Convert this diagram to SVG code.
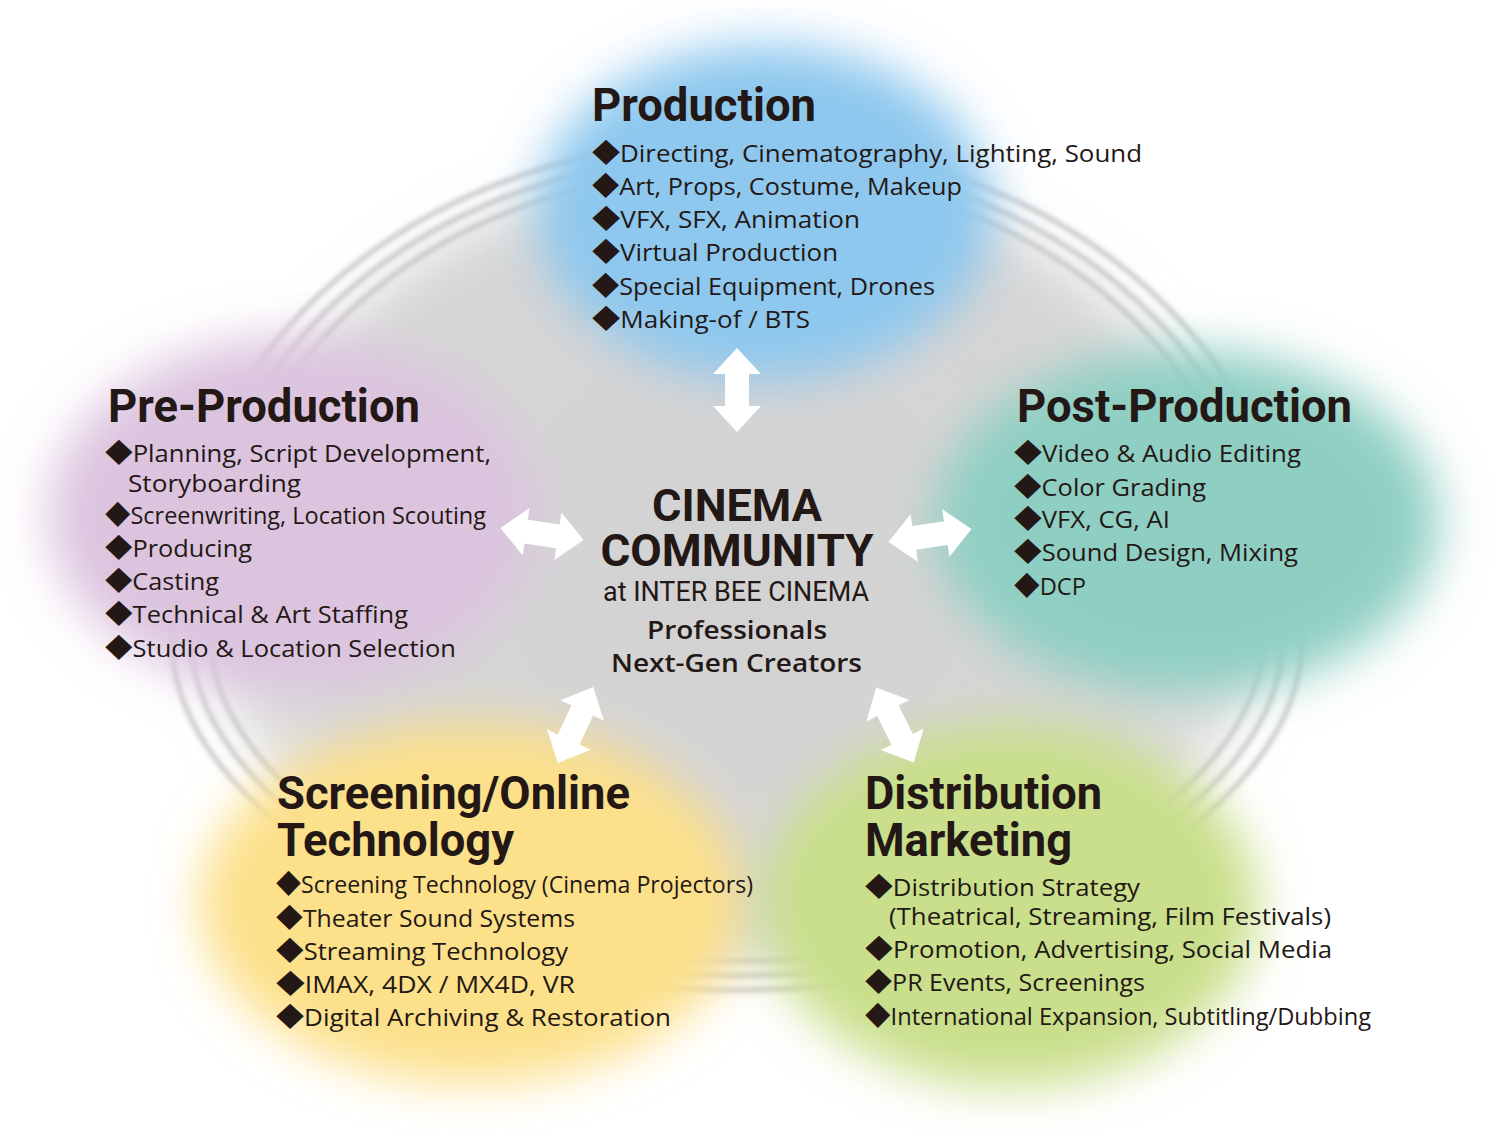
<svg xmlns="http://www.w3.org/2000/svg" xmlns:xlink="http://www.w3.org/1999/xlink" width="1497" height="1137" viewBox="0 0 1497 1137">
<style>
.t{font-family:Roboto,"Liberation Sans",sans-serif;font-weight:700;font-size:46px;fill:#231815}
.b{font-family:"Open Sans","DejaVu Sans",sans-serif;font-weight:400;font-size:24px;fill:#231815}
.d{font-family:"Noto Sans CJK JP","DejaVu Sans",sans-serif;font-size:26px}
.c1{font-family:Roboto,"Liberation Sans",sans-serif;font-weight:700;font-size:45px;fill:#231815}
.c2{font-family:Roboto,"Liberation Sans",sans-serif;font-weight:400;font-size:27px;fill:#231815}
.c3{font-family:"Open Sans","DejaVu Sans",sans-serif;font-weight:600;font-size:26px;fill:#231815}
.ring{fill:none;stroke:#bdbdbd;stroke-width:4}
.arrow{fill:#ffffff}
</style>
<defs>
<filter id="blur" x="-40%" y="-40%" width="180%" height="180%"><feGaussianBlur stdDeviation="24"/></filter>
<filter id="blurBig" x="-20%" y="-20%" width="140%" height="140%"><feGaussianBlur stdDeviation="28"/></filter>
<filter id="blurRing" x="-10%" y="-10%" width="120%" height="120%"><feGaussianBlur stdDeviation="2.8"/></filter>
<path id="ringPath" d="M 737 140 C 1034 140 1302 330 1302 640 C 1302 740 1214 830 1054 920 C 950 975 840 990 737 990 C 634 990 524 975 420 920 C 260 830 172 740 172 640 C 172 330 440 140 737 140 Z"/>
<path id="dbl" d="M -42 0 L -16 -24 L -16 -12 L 16 -12 L 16 -24 L 42 0 L 16 24 L 16 12 L -16 12 L -16 24 Z"/>
<radialGradient id="grayGrad" cx="737" cy="565" r="560" gradientUnits="userSpaceOnUse">
<stop offset="0" stop-color="#d2d2d2"/>
<stop offset="0.8" stop-color="#d6d6d6"/>
<stop offset="1" stop-color="#e2e2e2"/>
</radialGradient>
</defs>
<rect width="1497" height="1137" fill="#ffffff"/>
<g id="background">
<use xlink:href="#ringPath" fill="url(#grayGrad)" filter="url(#blurBig)" transform="translate(737 565) scale(0.93) translate(-737 -565)"/>
<g filter="url(#blurRing)">
<use xlink:href="#ringPath" class="ring" transform="translate(737 565) scale(1.0) translate(-737 -565)"/>
<use xlink:href="#ringPath" class="ring" transform="translate(737 565) scale(0.966) translate(-737 -565)"/>
<use xlink:href="#ringPath" class="ring" transform="translate(737 565) scale(0.932) translate(-737 -565)"/>
</g>
</g>
<g id="blobs">
<ellipse cx="765" cy="212" rx="228" ry="168" fill="#8ec8ee" filter="url(#blur)"/>
<ellipse cx="293" cy="515" rx="245" ry="178" fill="#dcc4df" filter="url(#blur)"/>
<ellipse cx="1187" cy="522" rx="252" ry="172" fill="#8fcfc3" filter="url(#blur)"/>
<ellipse cx="472" cy="903" rx="272" ry="180" fill="#fce08a" filter="url(#blur)"/>
<ellipse cx="1010" cy="905" rx="248" ry="182" fill="#c9df8b" filter="url(#blur)"/>
</g>
<g id="connectors">
<use xlink:href="#dbl" class="arrow" transform="translate(737 390) rotate(90)"/>
<use xlink:href="#dbl" class="arrow" transform="translate(542 534) rotate(8.3)"/>
<use xlink:href="#dbl" class="arrow" transform="translate(930 535.5) rotate(-8.8)"/>
<use xlink:href="#dbl" class="arrow" transform="translate(575.5 725) rotate(-65)"/>
<use xlink:href="#dbl" class="arrow" transform="translate(895 725) rotate(63.4)"/>
</g>
<g id="center">
<text class="c1" x="737" y="521" text-anchor="middle" textLength="170" lengthAdjust="spacingAndGlyphs">CINEMA</text>
<text class="c1" x="737" y="566" text-anchor="middle" textLength="273" lengthAdjust="spacingAndGlyphs">COMMUNITY</text>
<text class="c2" x="736" y="601" text-anchor="middle" textLength="266" lengthAdjust="spacingAndGlyphs">at INTER BEE CINEMA</text>
<text class="c3" x="737" y="639" text-anchor="middle" textLength="180" lengthAdjust="spacingAndGlyphs">Professionals</text>
<text class="c3" x="736.5" y="672" text-anchor="middle" textLength="251" lengthAdjust="spacingAndGlyphs">Next-Gen Creators</text>
</g>
<g id="production">
<text class="t" x="592" y="121" textLength="224" lengthAdjust="spacingAndGlyphs">Production</text>
<text class="b" x="592" y="162" textLength="550" lengthAdjust="spacingAndGlyphs"><tspan class="d">◆</tspan>Directing, Cinematography, Lighting, Sound</text>
<text class="b" x="592" y="195" textLength="370" lengthAdjust="spacingAndGlyphs"><tspan class="d">◆</tspan>Art, Props, Costume, Makeup</text>
<text class="b" x="592" y="228" textLength="268" lengthAdjust="spacingAndGlyphs"><tspan class="d">◆</tspan>VFX, SFX, Animation</text>
<text class="b" x="592" y="261" textLength="246" lengthAdjust="spacingAndGlyphs"><tspan class="d">◆</tspan>Virtual Production</text>
<text class="b" x="592" y="295" textLength="343" lengthAdjust="spacingAndGlyphs"><tspan class="d">◆</tspan>Special Equipment, Drones</text>
<text class="b" x="592" y="328" textLength="218" lengthAdjust="spacingAndGlyphs"><tspan class="d">◆</tspan>Making-of / BTS</text>
</g>
<g id="pre-production">
<text class="t" x="108" y="422" textLength="312" lengthAdjust="spacingAndGlyphs">Pre-Production</text>
<text class="b" x="105" y="462" textLength="386" lengthAdjust="spacingAndGlyphs"><tspan class="d">◆</tspan>Planning, Script Development,</text>
<text class="b" x="128" y="492" textLength="173" lengthAdjust="spacingAndGlyphs">Storyboarding</text>
<text class="b" x="105" y="524" textLength="381" lengthAdjust="spacingAndGlyphs"><tspan class="d">◆</tspan>Screenwriting, Location Scouting</text>
<text class="b" x="105" y="557" textLength="147" lengthAdjust="spacingAndGlyphs"><tspan class="d">◆</tspan>Producing</text>
<text class="b" x="105" y="590" textLength="114" lengthAdjust="spacingAndGlyphs"><tspan class="d">◆</tspan>Casting</text>
<text class="b" x="105" y="623" textLength="303" lengthAdjust="spacingAndGlyphs"><tspan class="d">◆</tspan>Technical &amp; Art Staffing</text>
<text class="b" x="105" y="657" textLength="351" lengthAdjust="spacingAndGlyphs"><tspan class="d">◆</tspan>Studio &amp; Location Selection</text>
</g>
<g id="post-production">
<text class="t" x="1017" y="422" textLength="335" lengthAdjust="spacingAndGlyphs">Post-Production</text>
<text class="b" x="1014" y="462" textLength="287" lengthAdjust="spacingAndGlyphs"><tspan class="d">◆</tspan>Video &amp; Audio Editing</text>
<text class="b" x="1014" y="496" textLength="192" lengthAdjust="spacingAndGlyphs"><tspan class="d">◆</tspan>Color Grading</text>
<text class="b" x="1014" y="528" textLength="156" lengthAdjust="spacingAndGlyphs"><tspan class="d">◆</tspan>VFX, CG, AI</text>
<text class="b" x="1014" y="561" textLength="284" lengthAdjust="spacingAndGlyphs"><tspan class="d">◆</tspan>Sound Design, Mixing</text>
<text class="b" x="1014" y="595" textLength="72" lengthAdjust="spacingAndGlyphs"><tspan class="d">◆</tspan>DCP</text>
</g>
<g id="screening">
<text class="t" x="277" y="809" textLength="353" lengthAdjust="spacingAndGlyphs">Screening/Online</text>
<text class="t" x="277" y="856" textLength="237" lengthAdjust="spacingAndGlyphs">Technology</text>
<text class="b" x="276" y="893" textLength="477" lengthAdjust="spacingAndGlyphs"><tspan class="d">◆</tspan>Screening Technology (Cinema Projectors)</text>
<text class="b" x="276" y="927" textLength="299" lengthAdjust="spacingAndGlyphs"><tspan class="d">◆</tspan>Theater Sound Systems</text>
<text class="b" x="276" y="960" textLength="292" lengthAdjust="spacingAndGlyphs"><tspan class="d">◆</tspan>Streaming Technology</text>
<text class="b" x="276" y="993" textLength="299" lengthAdjust="spacingAndGlyphs"><tspan class="d">◆</tspan>IMAX, 4DX / MX4D, VR</text>
<text class="b" x="276" y="1026" textLength="395" lengthAdjust="spacingAndGlyphs"><tspan class="d">◆</tspan>Digital Archiving &amp; Restoration</text>
</g>
<g id="distribution">
<text class="t" x="865" y="809" textLength="237" lengthAdjust="spacingAndGlyphs">Distribution</text>
<text class="t" x="865" y="856" textLength="207" lengthAdjust="spacingAndGlyphs">Marketing</text>
<text class="b" x="865" y="896" textLength="275" lengthAdjust="spacingAndGlyphs"><tspan class="d">◆</tspan>Distribution Strategy</text>
<text class="b" x="889" y="925" textLength="442" lengthAdjust="spacingAndGlyphs">(Theatrical, Streaming, Film Festivals)</text>
<text class="b" x="865" y="958" textLength="467" lengthAdjust="spacingAndGlyphs"><tspan class="d">◆</tspan>Promotion, Advertising, Social Media</text>
<text class="b" x="865" y="991" textLength="280" lengthAdjust="spacingAndGlyphs"><tspan class="d">◆</tspan>PR Events, Screenings</text>
<text class="b" x="865" y="1025" textLength="506" lengthAdjust="spacingAndGlyphs"><tspan class="d">◆</tspan>International Expansion, Subtitling/Dubbing</text>
</g>
</svg>
